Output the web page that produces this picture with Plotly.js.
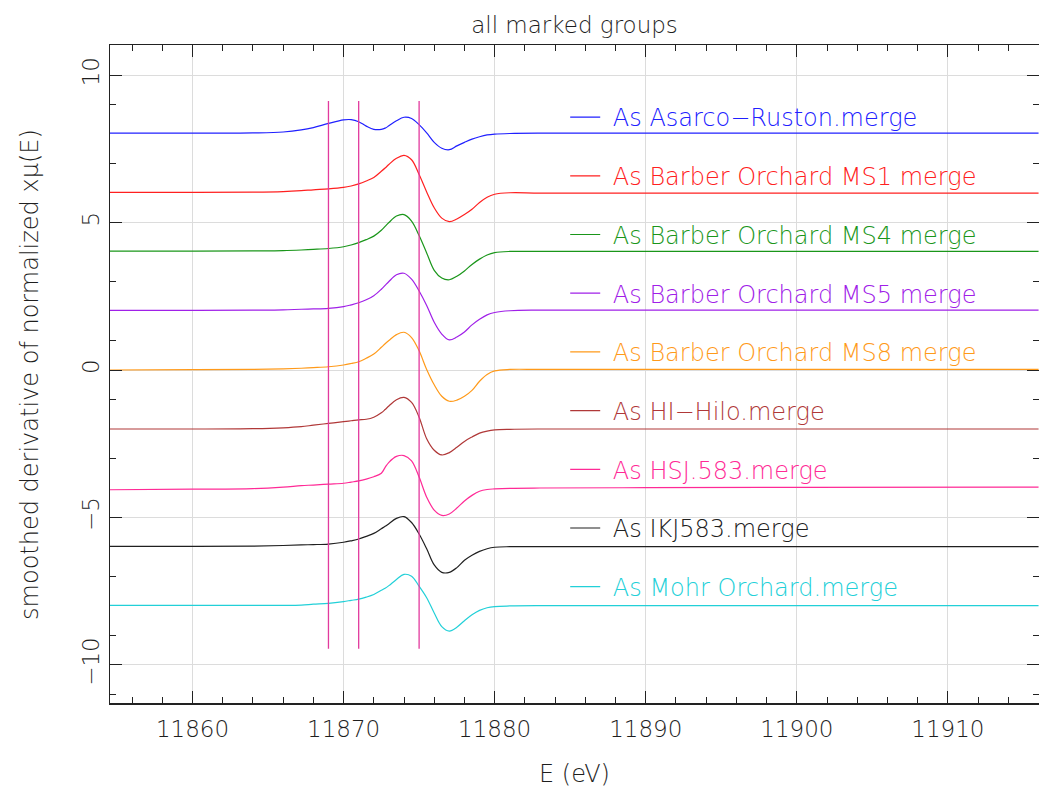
<!DOCTYPE html>
<html>
<head>
<meta charset="utf-8">
<script src="https://cdn.plot.ly/plotly-3.0.1.min.js"></script>
<style>
  html, body { margin: 0; padding: 0; background: #fff; overflow: hidden; }
  #plot { width: 1039px; height: 789px; }
</style>
</head>
<body>
<div id="plot"></div>
<script>
// Energy grid (eV) shared by all spectra
const energy = [11854.5, 11860, 11864, 11866, 11867.2, 11868, 11869, 11870, 11870.5, 11871,
  11871.5, 11872, 11872.5, 11872.75, 11873, 11873.5, 11874, 11874.5, 11875, 11875.5,
  11876, 11876.5, 11877, 11877.5, 11878, 11878.5, 11879, 11879.5, 11880, 11881,
  11883, 11890, 11900, 11916];

// Smoothed derivative of normalized xmu(E), each group stacked by its offset
const asarcoRuston = [8.03, 8.03, 8.04, 8.07, 8.14, 8.22, 8.36, 8.48, 8.49, 8.42,
  8.27, 8.16, 8.16, 8.20, 8.28, 8.45, 8.57, 8.53, 8.32, 8.04,
  7.72, 7.52, 7.47, 7.60, 7.72, 7.83, 7.91, 7.97, 8.00, 8.02,
  8.03, 8.03, 8.03, 8.03];
const barberMS1 = [6.02, 6.02, 6.03, 6.05, 6.08, 6.11, 6.14, 6.19, 6.24, 6.31,
  6.41, 6.53, 6.74, 6.85, 6.97, 7.18, 7.28, 7.13, 6.63, 6.04,
  5.50, 5.15, 5.03, 5.12, 5.27, 5.45, 5.68, 5.86, 5.96, 6.01,
  6.00, 6.00, 6.00, 6.00];
const barberMS4 = [4.03, 4.03, 4.04, 4.05, 4.07, 4.09, 4.12, 4.18, 4.24, 4.32,
  4.42, 4.54, 4.74, 4.87, 5.00, 5.22, 5.27, 5.05, 4.56, 3.97,
  3.38, 3.12, 3.06, 3.18, 3.36, 3.58, 3.76, 3.90, 3.98, 4.02,
  4.02, 4.02, 4.02, 4.02];
const barberMS5 = [2.02, 2.02, 2.03, 2.04, 2.06, 2.07, 2.09, 2.15, 2.21, 2.28,
  2.38, 2.52, 2.74, 2.87, 3.00, 3.23, 3.28, 3.08, 2.68, 2.19,
  1.62, 1.22, 1.02, 1.12, 1.29, 1.53, 1.72, 1.87, 1.95, 2.01,
  2.03, 2.03, 2.03, 2.03];
const barberMS8 = [0.00, 0.01, 0.02, 0.04, 0.06, 0.08, 0.11, 0.17, 0.22, 0.28,
  0.40, 0.54, 0.77, 0.89, 1.00, 1.20, 1.28, 1.10, 0.65, 0.02,
  -0.50, -0.89, -1.06, -1.02, -0.89, -0.69, -0.38, -0.15, -0.03, 0.02,
  0.02, 0.02, 0.02, 0.02];
const hiHilo = [-2.00, -2.00, -1.99, -1.96, -1.92, -1.87, -1.81, -1.75, -1.72, -1.69,
  -1.67, -1.60, -1.45, -1.34, -1.22, -1.01, -0.93, -1.10, -1.60, -2.33,
  -2.72, -2.88, -2.80, -2.62, -2.42, -2.27, -2.14, -2.07, -2.03, -2.01,
  -2.00, -2.00, -2.00, -2.00];
const hsj583 = [-4.06, -4.04, -4.02, -3.97, -3.92, -3.90, -3.87, -3.84, -3.80, -3.76,
  -3.70, -3.62, -3.50, -3.30, -3.13, -2.93, -2.90, -3.08, -3.63, -4.31,
  -4.75, -4.93, -4.88, -4.68, -4.44, -4.25, -4.11, -4.05, -4.03, -4.01,
  -4.00, -3.99, -3.98, -3.97];
const ikj583 = [-5.98, -5.98, -5.97, -5.95, -5.93, -5.92, -5.90, -5.84, -5.79, -5.73,
  -5.64, -5.54, -5.38, -5.30, -5.21, -5.03, -4.97, -5.17, -5.56, -6.06,
  -6.61, -6.86, -6.86, -6.70, -6.45, -6.28, -6.15, -6.06, -6.01, -5.99,
  -5.99, -5.99, -5.99, -5.99];
const mohrOrchard = [-7.98, -7.98, -7.98, -7.98, -7.97, -7.94, -7.91, -7.85, -7.81, -7.77,
  -7.70, -7.61, -7.47, -7.40, -7.31, -7.10, -6.93, -6.99, -7.33, -7.72,
  -8.24, -8.70, -8.85, -8.72, -8.50, -8.30, -8.15, -8.06, -8.02, -8.00,
  -7.99, -7.99, -7.99, -7.99];

const groupNames = [
  'As Asarco\u2212Ruston.merge',
  'As Barber Orchard MS1 merge',
  'As Barber Orchard MS4 merge',
  'As Barber Orchard MS5 merge',
  'As Barber Orchard MS8 merge',
  'As HI\u2212Hilo.merge',
  'As HSJ.583.merge',
  'As IKJ583.merge',
  'As Mohr Orchard.merge'
];
const groupValues = [asarcoRuston, barberMS1, barberMS4, barberMS5, barberMS8,
  hiHilo, hsj583, ikj583, mohrOrchard];
const groupColors = ['#2020ff', '#ff2020', '#1a961a', '#a020e8', '#ff9a1a',
  '#b03838', '#ff2a96', '#202020', '#22d0d8'];

// Marked energies (vertical indicator lines)
const markerEnergies = [11869, 11871, 11875];
const markerSpan = [9.12, -9.45];

const FONT = 'DejaVu Sans, Liberation Sans, sans-serif';
const TEXT = '#1e1e1e';

const traces = groupNames.map((name, i) => ({
  type: 'scatter',
  mode: 'lines',
  x: energy,
  y: groupValues[i],
  name: '<span style="color:' + groupColors[i] + '">\u00a0' + name + '</span>',
  legendgroup: 'g' + i,
  line: { color: groupColors[i], width: 1.2, shape: 'spline', smoothing: 1 },
  hoverinfo: 'skip'
}));

markerEnergies.forEach(e => {
  traces.push({
    type: 'scatter',
    mode: 'lines',
    x: [e, e],
    y: markerSpan,
    showlegend: false,
    line: { color: '#e23a9e', width: 1.3 },
    hoverinfo: 'skip'
  });
});

const layout = {
  autosize: false,
  width: 1039,
  height: 789,
  margin: { l: 110, r: 0, t: 45, b: 86, pad: 0, autoexpand: false },
  paper_bgcolor: '#ffffff',
  plot_bgcolor: '#ffffff',
  font: { family: FONT, color: TEXT, size: 23, weight: 200 },
  title: {
    text: 'all marked groups',
    font: { family: FONT, size: 23, color: TEXT, weight: 200 },
    xref: 'paper', x: 0.5, xanchor: 'center',
    yref: 'container', y: 0.968, yanchor: 'middle'
  },
  showlegend: true,
  legend: {
    x: 0.49, xanchor: 'left',
    y: 0.924, yanchor: 'top',
    bgcolor: 'rgba(0,0,0,0)',
    borderwidth: 0,
    traceorder: 'grouped',
    tracegroupgap: 24.5,
    itemwidth: 30,
    font: { family: FONT, size: 24, weight: 200 }
  },
  xaxis: {
    range: [11854.54, 11916.03],
    tickmode: 'linear', tick0: 11860, dtick: 10,
    ticks: 'inside', ticklen: 12, tickcolor: '#222', tickwidth: 1,
    showline: true, linecolor: '#222', linewidth: 1.5, mirror: 'ticks',
    showgrid: true, gridcolor: '#dcdcdc', gridwidth: 1,
    zeroline: false,
    tickformat: 'd',
    ticklabelstandoff: 5,
    tickfont: { family: FONT, size: 23, color: TEXT, weight: 200 },
    minor: { dtick: 2, tick0: 11860, ticks: 'inside', ticklen: 6, tickcolor: '#222', showgrid: false },
    title: { text: 'E (eV)', standoff: 24, font: { family: FONT, size: 24, color: TEXT, weight: 200 } }
  },
  yaxis: {
    range: [-11.29, 11.02],
    tickmode: 'linear', tick0: 0, dtick: 5,
    ticks: 'inside', ticklen: 12, tickcolor: '#222', tickwidth: 1,
    showline: true, linecolor: '#222', linewidth: 1.5, mirror: 'ticks',
    showgrid: true, gridcolor: '#dcdcdc', gridwidth: 1,
    zeroline: false,
    tickangle: -90,
    tickfont: { family: FONT, size: 23, color: TEXT, weight: 200 },
    minor: { dtick: 2, tick0: 1, ticks: 'inside', ticklen: 6, tickcolor: '#222', showgrid: false }
  },
  annotations: [{
    text: 'smoothed derivative of normalized x\u03bc(E)',
    xref: 'paper', yref: 'paper',
    x: -0.0862, y: 0.5,
    xanchor: 'center', yanchor: 'middle',
    textangle: -90, showarrow: false,
    font: { family: FONT, size: 24, color: TEXT, weight: 200 }
  }]
};

Plotly.newPlot('plot', traces, layout, { staticPlot: true, displayModeBar: false });
</script>
</body>
</html>
